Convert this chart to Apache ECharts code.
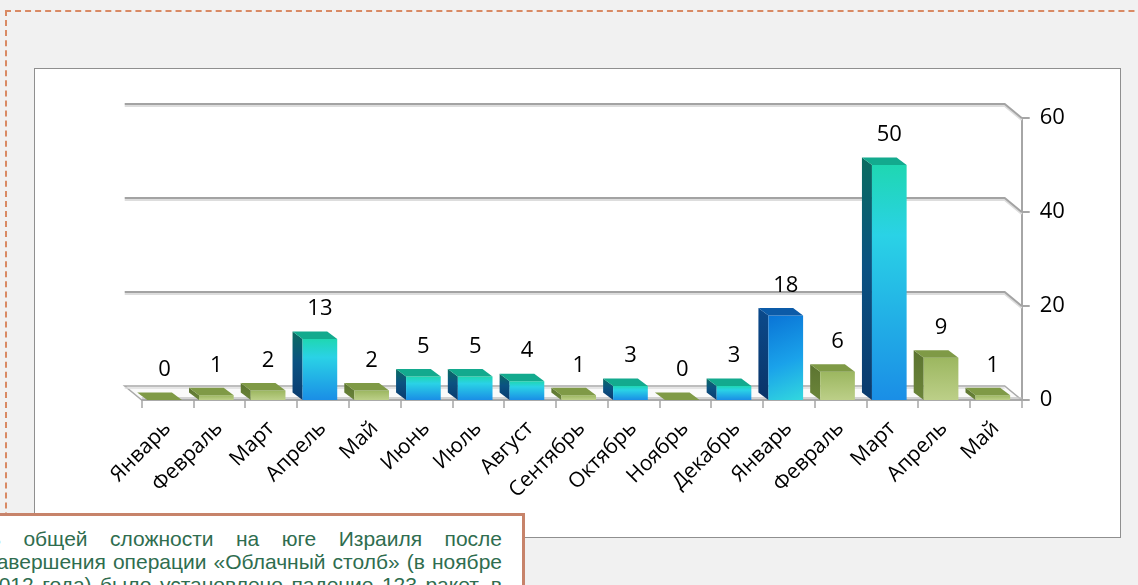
<!DOCTYPE html>
<html><head><meta charset="utf-8">
<script src="https://cdn.jsdelivr.net/npm/echarts@6/dist/echarts.min.js"></script>
<style>
html,body{margin:0;padding:0;width:1138px;height:585px;overflow:hidden;background:#f1f1f1;}
#frame{position:absolute;left:5px;top:10px;width:1300px;height:800px;border:2px dashed #d98a64;box-sizing:border-box;}
#box{position:absolute;left:34px;top:68px;width:1087px;height:470px;background:#fff;border:1.5px solid #8f8f8f;box-sizing:border-box;}
#chart{position:absolute;left:0;top:0;width:1138px;height:585px;}
#note{position:absolute;left:-36px;top:513px;width:515px;padding:11px 20px 20px 20px;border:3px solid #c7836a;background:#fff;
 font-family:"Liberation Sans",Arial,sans-serif;font-size:21px;line-height:23px;color:#2f6d4f;z-index:5;}
#note div{text-align:justify;text-align-last:justify;white-space:nowrap;}
</style></head>
<body>
<div id="frame"></div>
<div id="box"></div>
<div id="chart"></div>
<div id="note">
<div>В общей сложности на юге Израиля после</div>
<div>завершения операции «Облачный столб» (в ноябре</div>
<div>2012 года) было установлено падение 123 ракет, в</div>
</div>
<script>
const categories = ['Январь','Февраль','Март','Апрель','Май','Июнь','Июль','Август','Сентябрь','Октябрь','Ноябрь','Декабрь','Январь','Февраль','Март','Апрель','Май'];
const values = [0,1,2,13,2,5,5,4,1,3,0,3,18,6,50,9,1];
const yTicks = [0,20,40,60];
// style only: colour tone of each bar
const barTone = ['g','g','g','b','g','b','b','b','g','b','g','b','d','g','b','g','g'];

const LG = echarts.graphic.LinearGradient;
const tones = {
  g: {front: () => new LG(0,0,0,1,[{offset:0,color:'#9cb760'},{offset:1,color:'#bccf88'}]),
      side: () => new LG(0,0,0,1,[{offset:0,color:'#5c7430'},{offset:1,color:'#6b853a'}]),
      top: '#7f9a46'},
  b: {front: () => new LG(0,0,0,1,[{offset:0,color:'#1fd7b2'},{offset:0.3,color:'#2ad2e6'},{offset:1,color:'#1a8ee6'}]),
      side: () => new LG(0,0,0,1,[{offset:0,color:'#0b6c60'},{offset:0.45,color:'#0b5282'},{offset:1,color:'#0a3a6e'}]),
      top: '#13aa8e'},
  d: {front: () => new LG(0,0,1,1,[{offset:0,color:'#0a74d6'},{offset:0.55,color:'#1aa2ea'},{offset:1,color:'#32d8de'}]),
      side: () => new LG(0,0,0,1,[{offset:0,color:'#0b4a8c'},{offset:1,color:'#0a3468'}]),
      top: '#0c5ba8'}
};

function renderBar(params, api){
  const idx = api.value(0), v = api.value(1);
  const base = api.coord([idx, 0]);
  const top = api.coord([idx, v]);
  const band = api.size([1, 0])[0];
  const w = band * 0.67;
  const x0 = base[0] - w/2 - 3, x1 = x0 + w;
  const yB = base[1], yT = top[1];
  const dx = -10, dy = -7.5;
  const t = tones[barTone[idx]];
  return {type:'group', children:[
    {type:'polygon', shape:{points:[[x0,yT],[x0+dx,yT+dy],[x0+dx,yB+dy],[x0,yB]]}, style:{fill:t.side()}},
    {type:'rect', shape:{x:x0, y:yT, width:w, height:Math.max(0,yB-yT)}, style:{fill:t.front()}},
    {type:'polygon', shape:{points:[[x0,yT],[x1,yT],[x1+dx,yT+dy],[x0+dx,yT+dy]]}, style:{fill:t.top}},
    {type:'text', style:{text:String(v), x:(x0+x1)/2, y:yT-19, align:'center', verticalAlign:'bottom',
      fontSize:22, fontFamily:'Open Sans', fill:'#000'}}
  ]};
}

function renderWall(params, api){
  const tv = api.value(1);
  const p = api.coord([0, tv]);
  const q = api.coord([categories.length-1, tv]);
  const band = api.size([1, 0])[0];
  const L = p[0]-band/2, R = q[0]+band/2, y = p[1];
  const DX = -17, DY = -14;
  if (tv === 0) {
    return {type:'group', children:[
      {type:'polygon', shape:{points:[[L+DX,y+DY],[R+DX,y+DY],[R,y],[L,y]]}, style:{fill:'#fafafa', stroke:'#a9a9a9', lineWidth:1.5}},
      {type:'line', shape:{x1:L+DX,y1:y+DY+2,x2:R+DX,y2:y+DY+2}, style:{stroke:'#dedede', lineWidth:1.5}},
      {type:'line', shape:{x1:L,y1:y-2,x2:R,y2:y-2}, style:{stroke:'#c4c4c4', lineWidth:1.5}},
      {type:'line', shape:{x1:L,y1:y,x2:R,y2:y}, style:{stroke:'#a3a3a3', lineWidth:1.5}}
    ]};
  }
  const pts = [[L+DX,y+DY],[R+DX,y+DY],[R,y]];
  return {type:'group', children:[
    {type:'polyline', shape:{points:pts.map(a=>[a[0],a[1]+2])}, style:{stroke:'#dddddd', lineWidth:2, fill:null}},
    {type:'polyline', shape:{points:pts}, style:{stroke:'#a3a3a3', lineWidth:2, fill:null}}
  ]};
}

const chart = echarts.init(document.getElementById('chart'), null, {renderer:'canvas'});
chart.setOption({
  animation:false,
  backgroundColor:'transparent',
  grid:{left:141.7, right:116.3, top:118, bottom:185},
  xAxis:{type:'category', data:categories,
    axisLine:{show:false},
    axisTick:{show:true, interval:0, length:8, lineStyle:{color:'#a6a6a6', width:1.5}},
    axisLabel:{interval:0, rotate:45, margin:25, fontSize:21, fontFamily:'Open Sans', color:'#000'}},
  yAxis:{type:'value', position:'right', min:0, max:60, interval:20,
    axisLine:{show:true, lineStyle:{color:'#a6a6a6', width:2}},
    axisTick:{show:true, length:8, lineStyle:{color:'#a6a6a6', width:2}},
    splitLine:{show:false},
    axisLabel:{margin:18, fontSize:22, fontFamily:'Open Sans', color:'#000'}},
  series:[
    {type:'custom', z:1, renderItem:renderWall, data:yTicks.map(t=>[0,t]), silent:true},
    {type:'custom', z:3, renderItem:renderBar, data:values.map((v,i)=>[i,v])}
  ]
});
</script>
</body></html>
